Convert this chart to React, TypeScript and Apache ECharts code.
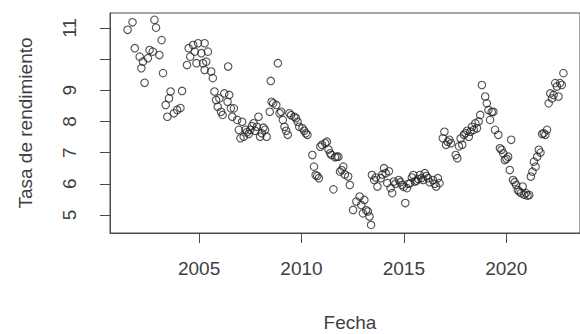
import React, { useEffect, useRef } from "react";
import * as echarts from "echarts";

// Decimal year of each observation
const fechas: number[] = [
  2001.51, 2001.75, 2001.86, 2002.10, 2002.18, 2002.26, 2002.34, 2002.50, 2002.58, 2002.74,
  2002.82, 2002.90, 2003.06, 2003.17, 2003.24, 2003.37, 2003.45, 2003.53, 2003.61, 2003.77,
  2003.93, 2004.09, 2004.17, 2004.41, 2004.49, 2004.57, 2004.71, 2004.79, 2004.87, 2004.95,
  2005.11, 2005.19, 2005.27, 2005.27, 2005.35, 2005.43, 2005.59, 2005.67, 2005.75, 2005.83,
  2005.91, 2005.99, 2006.07, 2006.15, 2006.23, 2006.39, 2006.42, 2006.47, 2006.55, 2006.62,
  2006.70, 2006.86, 2006.94, 2007.02, 2007.10, 2007.18, 2007.26, 2007.34, 2007.42, 2007.50,
  2007.58, 2007.66, 2007.74, 2007.82, 2007.90, 2007.98, 2008.06, 2008.14, 2008.22, 2008.30,
  2008.45, 2008.50, 2008.54, 2008.62, 2008.77, 2008.85, 2008.93, 2009.01, 2009.09, 2009.17,
  2009.25, 2009.33, 2009.41, 2009.49, 2009.65, 2009.73, 2009.81, 2009.89, 2010.05, 2010.13,
  2010.21, 2010.29, 2010.53, 2010.61, 2010.69, 2010.77, 2010.85, 2010.92, 2011.00, 2011.16,
  2011.24, 2011.32, 2011.40, 2011.46, 2011.56, 2011.64, 2011.72, 2011.80, 2011.88, 2011.96,
  2012.04, 2012.12, 2012.28, 2012.36, 2012.52, 2012.68, 2012.84, 2012.92, 2013.00, 2013.07,
  2013.16, 2013.24, 2013.32, 2013.40, 2013.44, 2013.55, 2013.63, 2013.71, 2013.87, 2013.95,
  2014.03, 2014.11, 2014.19, 2014.27, 2014.35, 2014.43, 2014.51, 2014.59, 2014.75, 2014.83,
  2014.91, 2014.99, 2015.07, 2015.15, 2015.23, 2015.31, 2015.39, 2015.46, 2015.54, 2015.62,
  2015.70, 2015.78, 2015.86, 2015.94, 2016.02, 2016.10, 2016.18, 2016.26, 2016.42, 2016.50,
  2016.58, 2016.66, 2016.74, 2016.90, 2016.98, 2017.06, 2017.14, 2017.22, 2017.30, 2017.53,
  2017.61, 2017.69, 2017.77, 2017.85, 2017.93, 2018.01, 2018.09, 2018.17, 2018.25, 2018.33,
  2018.41, 2018.49, 2018.57, 2018.65, 2018.73, 2018.81, 2018.97, 2019.05, 2019.13, 2019.21,
  2019.29, 2019.37, 2019.45, 2019.61, 2019.69, 2019.77, 2019.85, 2019.93, 2020.01, 2020.09,
  2020.17, 2020.24, 2020.33, 2020.41, 2020.48, 2020.56, 2020.64, 2020.72, 2020.80, 2020.88,
  2020.96, 2021.04, 2021.12, 2021.20, 2021.28, 2021.35, 2021.43, 2021.51, 2021.59, 2021.67,
  2021.75, 2021.83, 2021.91, 2021.99, 2022.07, 2022.15, 2022.23, 2022.31, 2022.39, 2022.47,
  2022.55, 2022.63, 2022.71, 2022.79,
];

// Tasa de rendimiento for each observation
const tasas: number[] = [
  10.94, 11.18, 10.35, 10.08, 9.71, 9.92, 9.24, 10.03, 10.29, 10.24,
  11.26, 11.01, 10.13, 10.61, 9.55, 8.53, 8.15, 8.74, 8.96, 8.26,
  8.37, 8.43, 8.98, 9.81, 10.35, 10.08, 10.45, 10.24, 9.87, 10.51,
  10.19, 9.87, 10.51, 9.65, 9.92, 10.24, 9.60, 9.39, 8.96, 8.69,
  8.47, 8.74, 8.31, 8.21, 8.90, 8.63, 9.76, 8.85, 8.42, 8.15,
  8.42, 8.05, 7.73, 7.46, 7.99, 7.51, 7.73, 7.65, 7.60, 7.73,
  7.85, 7.94, 7.70, 7.83, 8.15, 7.51, 7.62, 7.80, 7.73, 7.51,
  8.31, 9.30, 8.63, 8.58, 8.53, 9.87, 8.26, 8.31, 8.05, 7.83,
  7.70, 7.57, 8.26, 8.20, 8.15, 8.10, 7.99, 7.83, 7.78, 7.70,
  7.62, 7.57, 6.92, 6.55, 6.28, 6.25, 6.18, 7.19, 7.25, 7.30,
  7.35, 7.10, 6.98, 6.92, 5.82, 6.85, 6.87, 6.87, 6.39, 6.44,
  6.55, 6.30, 6.23, 5.96, 5.16, 5.43, 5.59, 5.32, 5.05, 5.48,
  5.15, 5.11, 4.95, 4.68, 6.28, 6.12, 6.20, 5.91, 6.18, 6.30,
  6.50, 6.34, 6.02, 6.40, 5.86, 5.70, 6.07, 6.00, 6.12, 6.05,
  5.96, 5.90, 5.38, 5.86, 6.00, 6.02, 6.20, 6.28, 6.07, 6.10,
  6.15, 6.28, 6.18, 6.12, 6.34, 6.25, 6.18, 6.05, 6.12, 6.00,
  5.91, 6.18, 6.02, 7.46, 7.67, 7.25, 7.35, 7.41, 7.30, 6.92,
  6.82, 7.20, 7.45, 7.25, 7.57, 7.62, 7.70, 7.51, 7.67, 7.83,
  7.73, 7.94, 7.78, 8.00, 8.21, 9.17, 8.80, 8.58, 8.37, 8.05,
  8.30, 8.31, 7.73, 7.57, 7.14, 7.09, 6.98, 6.76, 6.80, 6.87,
  6.44, 7.41, 6.12, 6.05, 5.96, 5.80, 5.75, 5.70, 5.91, 5.65,
  5.70, 5.62, 5.64, 6.23, 6.39, 6.71, 6.55, 6.87, 7.09, 7.00,
  7.60, 7.62, 7.57, 7.73, 8.58, 8.90, 8.74, 8.85, 9.23, 9.12,
  8.80, 9.23, 9.17, 9.55,
];

const xTicks: number[] = [2005, 2010, 2015, 2020];
const yTicks: number[] = [5, 6, 7, 8, 9, 10, 11];
const yLabels: number[] = [5, 6, 7, 8, 9, 11];

const FONT = "'Liberation Sans', Arial, sans-serif";
const TEXT = "#404040";
const LINE = "#4a4a4a";

export default function App() {
  const ref = useRef<HTMLDivElement>(null);
  useEffect(() => {
    if (!ref.current) return;
    const chart = echarts.init(ref.current, undefined, { renderer: "svg" });
    const data = fechas.map((f, i) => [f, tasas[i]]);
    chart.setOption({
      animation: false,
      backgroundColor: "#ffffff",
      grid: {
        left: 110,
        top: 13,
        width: 480,
        height: 220,
        show: true,
        borderColor: LINE,
        borderWidth: 1,
        backgroundColor: "transparent",
      },
      xAxis: {
        type: "value",
        min: 2000.65,
        max: 2023.6,
        splitLine: { show: false },
        axisLine: { show: true, lineStyle: { color: LINE, width: 1 } },
        axisTick: {
          show: true,
          length: 10,
          customValues: xTicks,
          lineStyle: { color: LINE, width: 1 },
        },
        axisLabel: {
          customValues: xTicks,
          margin: 26,
          fontSize: 19,
          fontFamily: FONT,
          color: TEXT,
          formatter: (v: number) => String(v),
        },
      },
      yAxis: {
        type: "value",
        min: 4.42,
        max: 11.48,
        splitLine: { show: false },
        axisLine: { show: true, lineStyle: { color: LINE, width: 1 } },
        axisTick: {
          show: true,
          length: 10,
          customValues: yTicks,
          lineStyle: { color: LINE, width: 1 },
        },
        axisLabel: {
          customValues: yLabels,
          rotate: 90,
          margin: 31,
          fontSize: 19,
          fontFamily: FONT,
          color: TEXT,
          formatter: (v: number) => String(v),
        },
      },
      graphic: [
        {
          type: "text",
          x: 350,
          y: 322,
          style: {
            text: "Fecha",
            fontSize: 19,
            fontFamily: FONT,
            fill: TEXT,
            textAlign: "center",
            textVerticalAlign: "middle",
          },
        },
        {
          type: "text",
          x: 25,
          y: 123,
          rotation: Math.PI / 2,
          style: {
            text: "Tasa de rendimiento",
            fontSize: 19,
            fontFamily: FONT,
            fill: TEXT,
            textAlign: "center",
            textVerticalAlign: "middle",
          },
        },
      ],
      series: [
        {
          type: "scatter",
          data,
          symbol: "circle",
          symbolSize: 7.5,
          itemStyle: {
            color: "transparent",
            borderColor: "#262626",
            borderWidth: 1.1,
          },
        },
      ],
    });
    return () => chart.dispose();
  }, []);
  return (
    <div
      ref={ref}
      style={{ position: "fixed", left: 0, top: 0, width: 580, height: 334, background: "#fff" }}
    />
  );
}
